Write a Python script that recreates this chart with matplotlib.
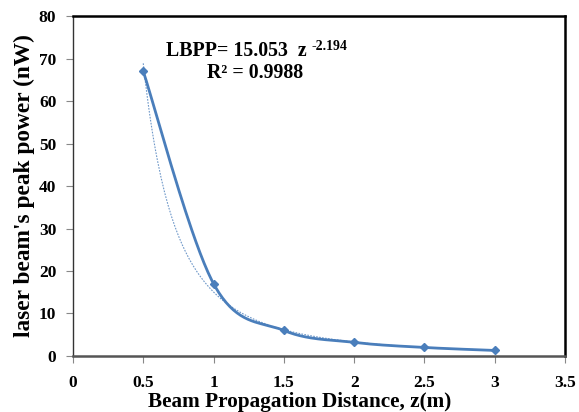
import numpy as np
import matplotlib
matplotlib.use("Agg")
from matplotlib import pyplot as plt

# data
z = [0.5, 1.0, 1.5, 2.0, 2.5, 3.0]
power = [67.0, 17.0, 6.0, 3.2, 2.0, 1.3]
fit_a = 15.053
fit_b = -2.194
xticks = [0, 0.5, 1, 1.5, 2, 2.5, 3, 3.5]
xticklabels = ['0', '0.5', '1', '1.5', '2', '2.5', '3', '3.5']
yticks = [0, 10, 20, 30, 40, 50, 60, 70, 80]

plt.rcParams['font.family'] = ['Liberation Serif', 'DejaVu Serif']
plt.rcParams['font.weight'] = 'bold'

blue = '#4A7EBB'


def smooth(x, y, n=40):
    # Excel-like smoothed line: Bezier pieces through the points
    x = np.asarray(x, float)
    y = np.asarray(y, float)
    px = np.concatenate([[x[0]], x, [x[-1]]])
    py = np.concatenate([[y[0]], y, [y[-1]]])
    xs, ys = [], []
    t = np.linspace(0, 1, n)
    for i in range(1, len(px) - 2):
        p0, p1, p2, p3 = [np.array([px[j], py[j]]) for j in (i - 1, i, i + 1, i + 2)]
        c1 = p1 + (p2 - p0) / 6
        c2 = p2 - (p3 - p1) / 6
        for tt in t:
            pt = (1 - tt) ** 3 * p1 + 3 * (1 - tt) ** 2 * tt * c1 + 3 * (1 - tt) * tt ** 2 * c2 + tt ** 3 * p2
            xs.append(pt[0])
            ys.append(pt[1])
    return np.array(xs), np.array(ys)


fig, ax = plt.subplots(figsize=(5.79, 4.12), dpi=100)
fig.subplots_adjust(left=0.126, right=0.976, top=0.961, bottom=0.136)

# trendline (power fit)
zf = np.linspace(0.5, 3.0, 200)
ax.plot(zf, fit_a * zf ** fit_b, color=blue, lw=0.8, ls=(0, (1.5, 1.2)), alpha=0.8)

sx, sy = smooth(z, power)
ax.plot(sx, sy, color=blue, lw=2.0)
ax.plot(z, power, ls='none', marker='D', ms=4.5, color=blue)

ax.set_xlim(0, 3.5)
ax.set_ylim(0, 80)
ax.set_xticks(xticks)
ax.set_xticklabels(xticklabels)
ax.set_yticks(yticks)
ax.tick_params(direction='out', length=5, width=0.8, labelsize=12.5, color='#888888')
ax.tick_params(axis='x', pad=9)
ax.tick_params(axis='y', pad=7)

ax.spines['top'].set_linewidth(1.8)
ax.spines['right'].set_linewidth(1.8)
ax.spines['bottom'].set_linewidth(1.8)
ax.spines['bottom'].set_color('#555555')
ax.spines['left'].set_color('#333333')
ax.spines['left'].set_linewidth(1.0)

ax.set_xlabel("Beam Propagation Distance, z(m)", fontsize=15.3, fontweight='bold')
ax.xaxis.set_label_coords(0.46, -0.105)
ax.set_ylabel("laser beam's peak power (nW)", fontsize=16.8, fontweight='bold', labelpad=3)

ax.text(0.661, 70.6, "LBPP= 15.053  z", fontsize=14.3, fontweight='bold')
ax.text(1.70, 72.0, "-2.194", fontsize=10, fontweight='bold')
ax.text(0.953, 65.4, "R² = 0.9988", fontsize=14.3, fontweight='bold')

fig.savefig("out.png", dpi=100)
